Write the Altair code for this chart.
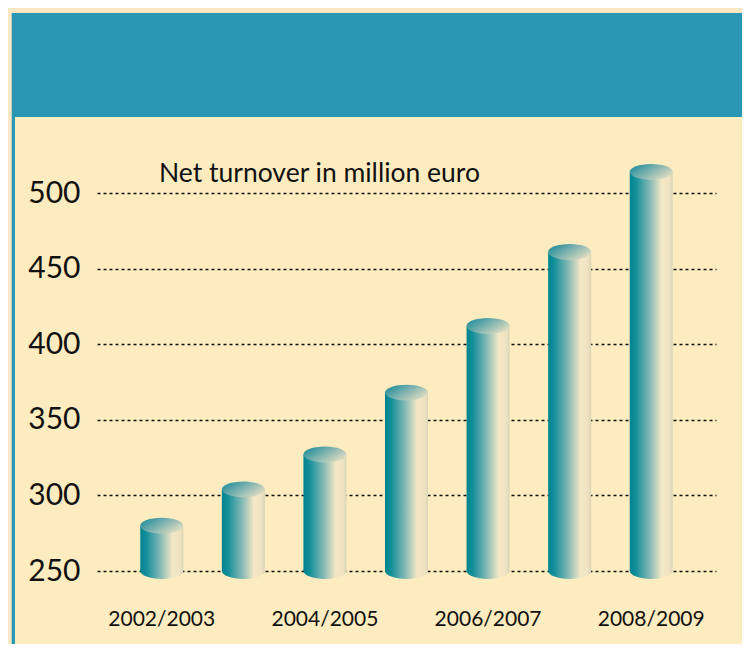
import altair as alt
import pandas as pd

# ---- data ----
years = ["2002/2003", "2003/2004", "2004/2005", "2005/2006",
         "2006/2007", "2007/2008", "2008/2009"]
turnover = [280, 304, 327, 368, 412, 461, 514]
y_ticks = [250, 300, 350, 400, 450, 500]
x_labels = ["2002/2003", "2004/2005", "2006/2007", "2008/2009"]
baseline = 250
title_text = "Net turnover in million euro"

df = pd.DataFrame({"year": years, "value": turnover,
                   "base": [baseline] * len(years)})
one = pd.DataFrame({"k": [0]})
df_title = pd.DataFrame({"t": [title_text]})

W, H = 619, 378
FONT = "Lato"
OUTER = "#fae7c3"
PANEL = "#fdecbf"
TEAL = "#2a98b4"

x_enc = alt.X(
    "year:N", sort=years,
    scale=alt.Scale(paddingOuter=0.294, paddingInner=0),
    axis=alt.Axis(values=x_labels, title=None, labelAngle=0, ticks=False,
                  tickSize=0, domain=False, grid=False, labelPadding=37,
                  labelFont=FONT, labelFontSize=21, labelColor="#111111"),
)
y_scale = alt.Scale(domain=[250, 500], nice=False, zero=False)
y_axis = alt.Axis(values=y_ticks, title=None, ticks=False, tickSize=0,
                  domain=False, grid=True, gridDash=[3, 3],
                  gridColor="#111111", gridWidth=1.5, labelPadding=17,
                  labelFont=FONT, labelFontSize=30, labelColor="#111111")

body_grad = alt.Gradient(
    gradient="linear", x1=0, y1=0, x2=1, y2=0,
    stops=[
        alt.GradientStop(offset=0.0, color="#00838f"),
        alt.GradientStop(offset=0.15, color="#16909b"),
        alt.GradientStop(offset=0.45, color="#7db6b3"),
        alt.GradientStop(offset=0.75, color="#f4e8c6"),
        alt.GradientStop(offset=0.92, color="#efe3c2"),
        alt.GradientStop(offset=1.0, color="#d9d5b8"),
    ],
)
top_grad = alt.Gradient(
    gradient="linear", x1=0, y1=0.2, x2=1, y2=0.8,
    stops=[
        alt.GradientStop(offset=0.0, color="#1f8d9a"),
        alt.GradientStop(offset=0.5, color="#86b6b2"),
        alt.GradientStop(offset=1.0, color="#ece2c3"),
    ],
)
ELLIPSE = "M-1,0A1,0.37,0,1,1,1,0A1,0.37,0,1,1,-1,0Z"


def deco(x1, x2, y1, y2, color):
    return alt.Chart(one).mark_rect(color=color).encode(
        x=alt.value(x1), x2=alt.value(x2), y=alt.value(y1), y2=alt.value(y2)
    )


decor = [
    deco(-89, 653, -185, -180, OUTER),
    deco(-89, -85.3, -185, 459, OUTER),
    deco(-85.3, 653, -180, -76, TEAL),
    deco(-85.3, -82, -76, 459, TEAL),
]

base = alt.Chart(df)

bottom = base.mark_point(shape=ELLIPSE, size=43 * 43, filled=True,
                         fill=body_grad, opacity=1, strokeWidth=0).encode(
    x=x_enc, y=alt.Y("base:Q", scale=y_scale, axis=y_axis)
)
bars = base.mark_bar(size=43, fill=body_grad).encode(
    x=x_enc,
    y=alt.Y("value:Q", scale=y_scale, axis=y_axis),
    y2="base:Q",
)
tops = base.mark_point(shape=ELLIPSE, size=43 * 43, filled=True,
                       fill=top_grad, opacity=1, strokeWidth=0).encode(
    x=x_enc, y=alt.Y("value:Q", scale=y_scale, axis=y_axis)
)
title = alt.Chart(df_title).mark_text(
    align="left", baseline="alphabetic", font=FONT, fontSize=26.5,
    color="#111111"
).encode(x=alt.value(62), y=alt.value(-10.7), text="t:N")

chart = alt.layer(*decor, bottom, bars, tops, title).properties(
    width=W, height=H,
    autosize=alt.AutoSizeParams(type="none"),
    padding={"left": 89, "top": 185, "right": 26, "bottom": 73},
    background=PANEL,
).configure_view(stroke=None)

chart.save("out.html", embed_options={"renderer": "svg", "actions": False})
